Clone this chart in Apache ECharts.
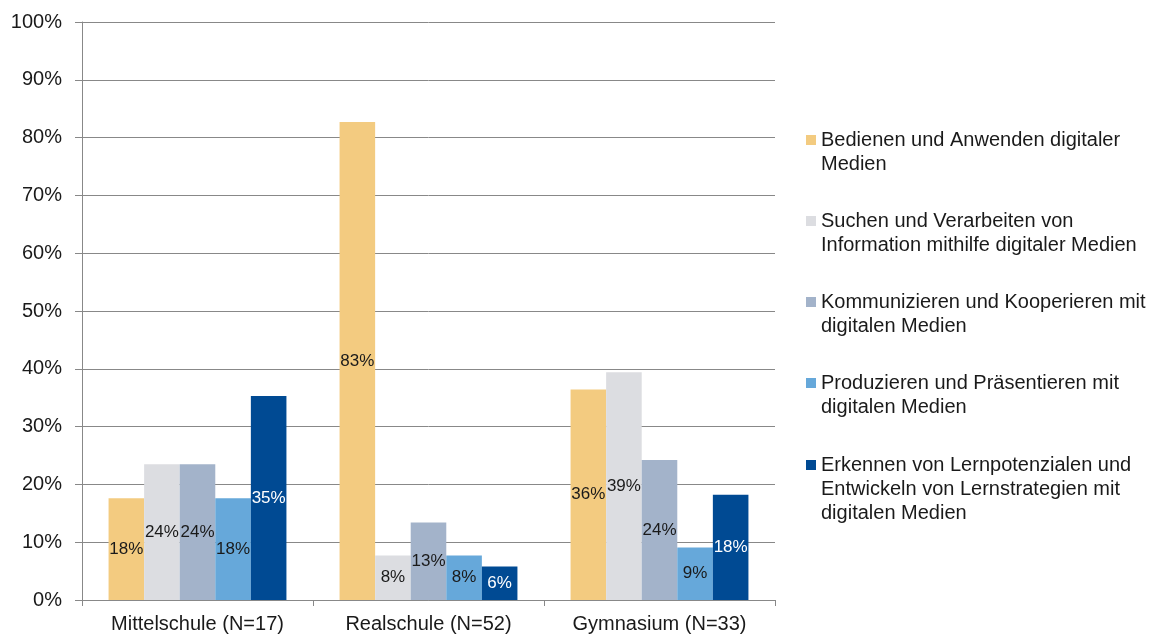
<!DOCTYPE html>
<html>
<head>
<meta charset="utf-8">
<script src="https://cdn.jsdelivr.net/npm/echarts@6/dist/echarts.min.js"></script>
<style>html,body{margin:0;padding:0;background:#fff;}#c{width:1166px;height:634px;}</style>
</head>
<body>
<div id="c"></div>
<script>
var categories = ['Mittelschule (N=17)', 'Realschule (N=52)', 'Gymnasium (N=33)'];
var seriesNames = [
  'Bedienen und Anwenden digitaler\nMedien',
  'Suchen und Verarbeiten von\nInformation mithilfe digitaler Medien',
  'Kommunizieren und Kooperieren mit\ndigitalen Medien',
  'Produzieren und Präsentieren mit\ndigitalen Medien',
  'Erkennen von Lernpotenzialen und\nEntwickeln von Lernstrategien mit\ndigitalen Medien'
];
var bedienen = [17.6, 82.7, 36.4];
var suchen = [23.5, 7.7, 39.4];
var kommunizieren = [23.5, 13.4, 24.2];
var produzieren = [17.6, 7.7, 9.1];
var erkennen = [35.3, 5.8, 18.2];
var colors = ['#F3CB80', '#DCDDE1', '#A3B3CA', '#66A8DA', '#004A93'];
var labelColors = ['#1a1a1a', '#1a1a1a', '#1a1a1a', '#1a1a1a', '#ffffff'];

var allData = [bedienen, suchen, kommunizieren, produzieren, erkennen];
var FONT = 'Liberation Sans, Arial, sans-serif';
var LH = 24;

var series = allData.map(function (d, i) {
  return {
    name: seriesNames[i],
    type: 'bar',
    data: d,
    barGap: '0%',
    barCategoryGap: '23%',
    itemStyle: { color: colors[i] },
    label: {
      show: true,
      position: 'inside',
      color: labelColors[i],
      fontSize: 17,
      fontFamily: FONT,
      formatter: function (p) { return Math.round(p.value) + '%'; }
    }
  };
});

function legendFormatter(name) {
  var n = name.split('\n').length;
  var pre = '';
  for (var k = 1; k < n; k++) pre += ' \n';
  return pre + name;
}
function makeLegend(names, top) {
  return {
    orient: 'vertical',
    left: 806,
    top: top,
    padding: 0,
    itemWidth: 10,
    itemHeight: 10,
    itemGap: 9,
    icon: 'rect',
    data: names,
    formatter: legendFormatter,
    textStyle: { fontSize: 20, color: '#1a1a1a', lineHeight: LH, fontFamily: FONT }
  };
}

var chart = echarts.init(document.getElementById('c'), null, { renderer: 'canvas' });
chart.setOption({
  animation: false,
  textStyle: { fontFamily: FONT },
  color: colors,
  grid: { left: 82, right: 391, top: 22, bottom: 34, containLabel: false, outerBoundsMode: 'none' },
  legend: [
    makeLegend(seriesNames.slice(0, 4), 104),
    makeLegend(seriesNames.slice(4), 405)
  ],
  xAxis: {
    type: 'category',
    data: categories,
    axisLine: { lineStyle: { color: '#888888', width: 1 } },
    axisTick: { show: true, length: 6, lineStyle: { color: '#888888' } },
    axisLabel: { fontSize: 20, color: '#1a1a1a', margin: 14, fontFamily: FONT }
  },
  yAxis: {
    type: 'value',
    min: 0,
    max: 100,
    interval: 10,
    axisLine: { show: true, lineStyle: { color: '#888888', width: 1 } },
    axisTick: { show: true, length: 7, lineStyle: { color: '#888888' } },
    splitLine: { show: true, lineStyle: { color: '#888888', width: 1 } },
    axisLabel: { fontSize: 20, color: '#1a1a1a', margin: 20, fontFamily: FONT, formatter: '{value}%' }
  },
  series: series
});
</script>
</body>
</html>
